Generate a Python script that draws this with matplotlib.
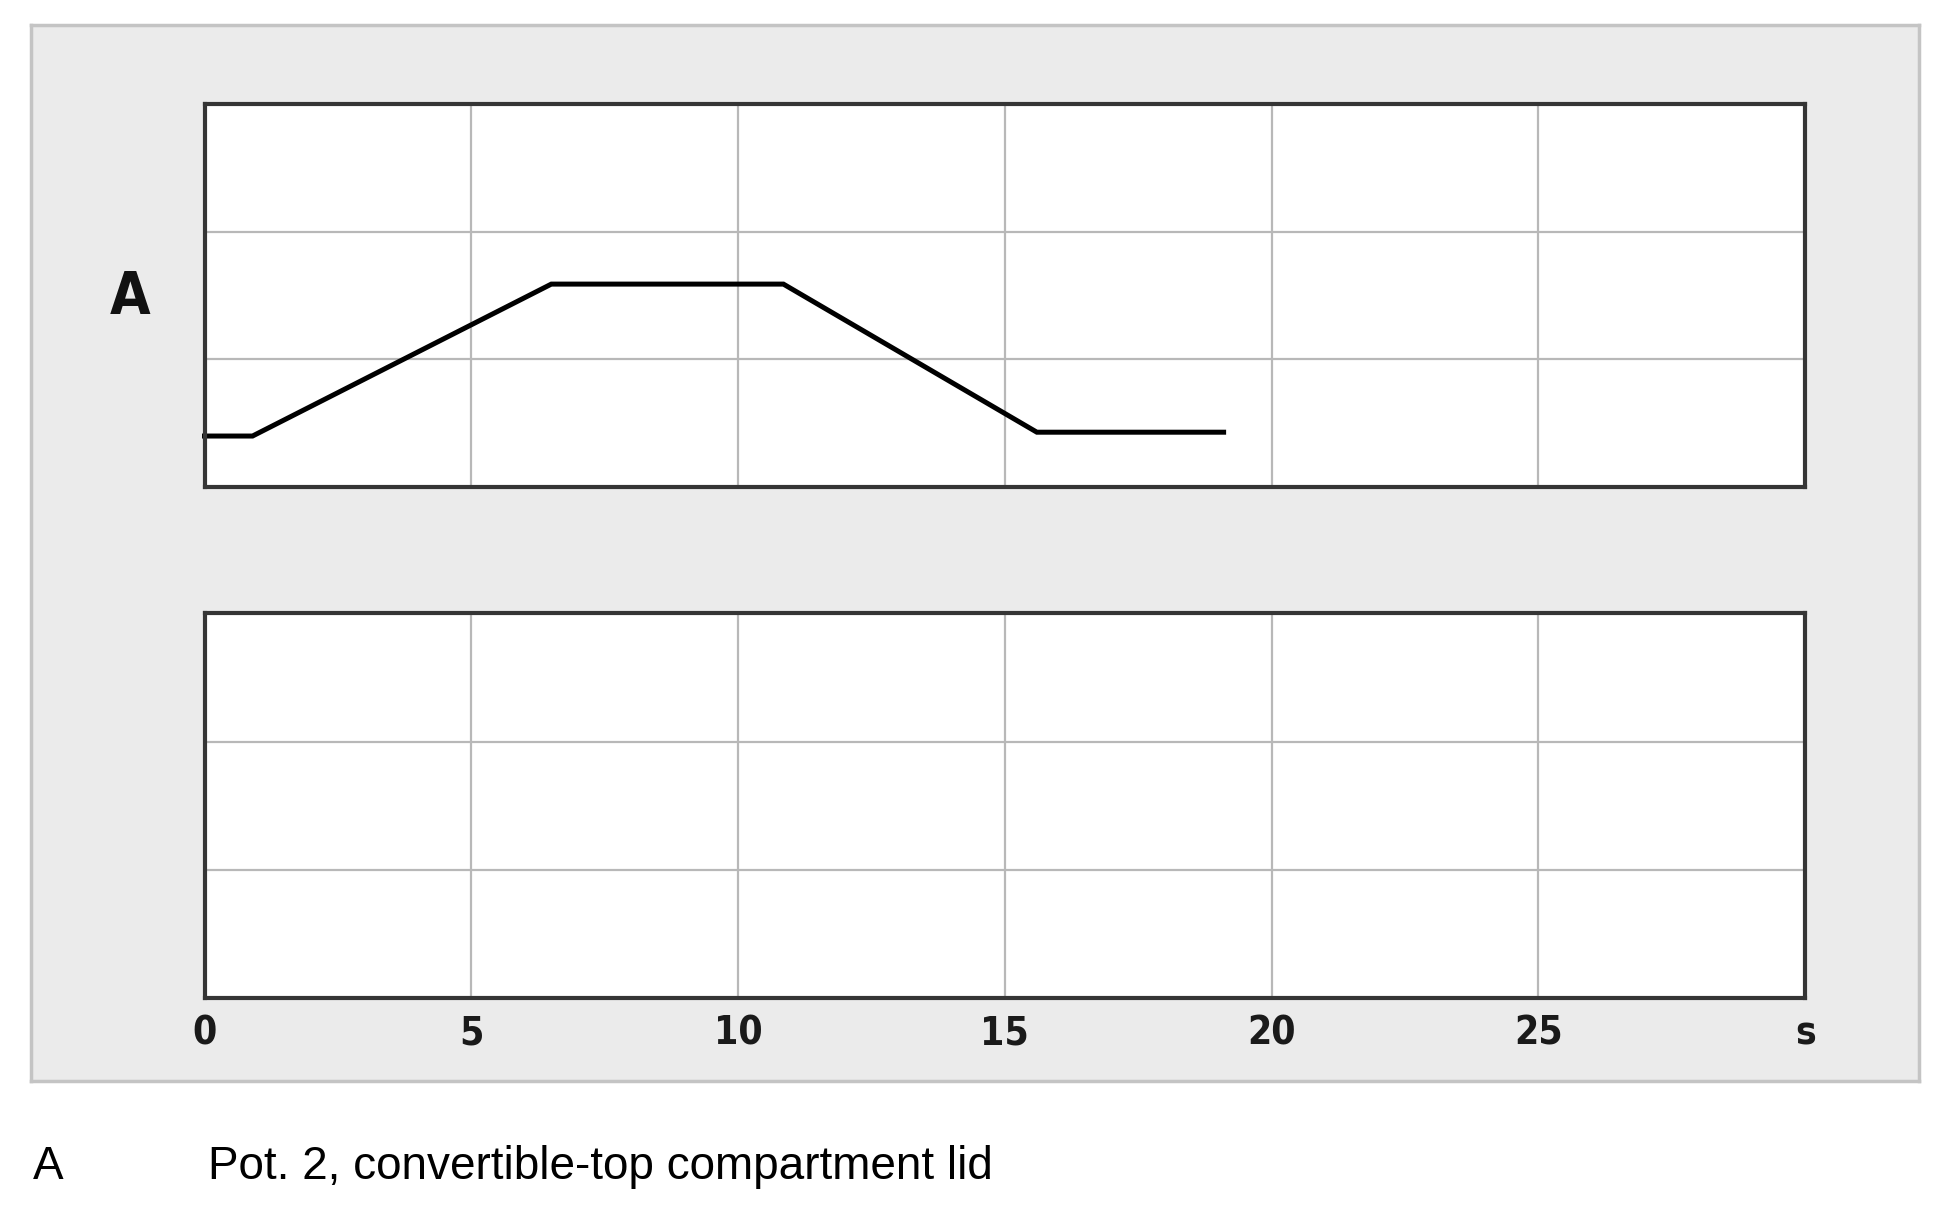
import matplotlib.pyplot as plt

# signal of pot. 2 over time
t = [0, 0.9, 6.5, 10.85, 15.6, 19.1]
pot2 = [0.40, 0.40, 1.59, 1.59, 0.43, 0.43]

xticks = [0, 5, 10, 15, 20, 25, 30]
xlabels = ['0', '5', '10', '15', '20', '25', 's']

fig = plt.figure(figsize=(19.44, 12.06), dpi=100)
fig.patch.set_facecolor('white')

# grey background panel as its own axes, behind the plots
bg = fig.add_axes([0.0159, 0.1038, 0.9713, 0.8756], zorder=-1)
bg.set_facecolor('#ebebeb')
bg.set_xticks([])
bg.set_yticks([])
for sp in bg.spines.values():
    sp.set_color('#c4c4c4')
    sp.set_linewidth(2.5)

ax1 = fig.add_axes([0.1052, 0.5961, 0.8234, 0.3176])
ax2 = fig.add_axes([0.1052, 0.1727, 0.8234, 0.3186])

for ax in (ax1, ax2):
    ax.set_facecolor('white')
    ax.set_xlim(0, 30)
    ax.set_ylim(0, 3)
    ax.set_xticks(xticks)
    ax.set_yticks([1, 2])
    ax.grid(True, color='#b8b8b8', linewidth=1.6)
    ax.set_axisbelow(True)
    ax.tick_params(length=0, labelleft=False)
    for sp in ax.spines.values():
        sp.set_color('#353535')
        sp.set_linewidth(3.0)

ax1.tick_params(labelbottom=False)
ax2.set_xticklabels(xlabels, family='DejaVu Sans', fontstretch='condensed',
                    fontsize=28, fontweight='bold', color='#1a1a1a')
ax2.tick_params(pad=12)

ax1.plot(t, pot2, color='black', linewidth=3.6, solid_joinstyle='miter', clip_on=False)

fig.text(0.067, 0.753, 'A', ha='center', va='center', fontsize=42, fontweight='bold',
         family='DejaVu Sans', fontstretch='condensed', color='#111111')

fig.text(0.017, 0.032, 'A', ha='left', va='center', fontsize=33, family='Liberation Sans')
fig.text(0.107, 0.032, 'Pot. 2, convertible-top compartment lid', ha='left', va='center',
         fontsize=33, family='Liberation Sans')

fig.savefig('out.png', dpi=100, facecolor='white')
